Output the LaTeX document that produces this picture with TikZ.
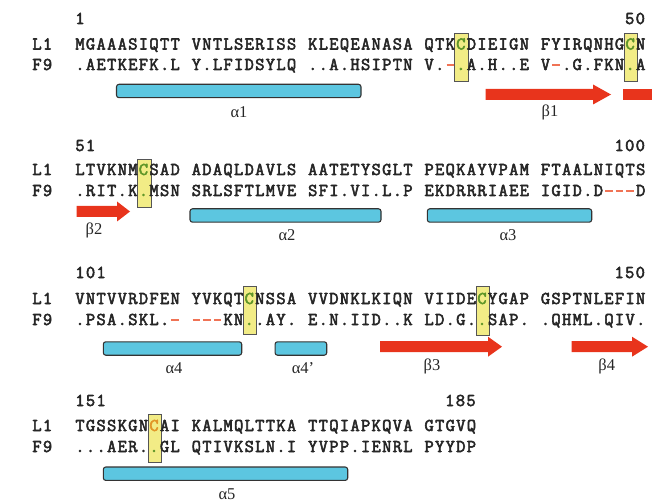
\documentclass[tikz,border=0pt]{standalone}
\usepackage{fontspec}
\setmainfont{Liberation Serif}
\newfontfamily\seqfont[FakeBold=3]{Latin Modern Mono}
\definecolor{txt}{HTML}{262626}
\definecolor{cysgreen}{RGB}{95,150,40}
\definecolor{cysorange}{RGB}{225,150,40}
\definecolor{boxfill}{HTML}{F2EC86}
\definecolor{boxdraw}{HTML}{555555}
\definecolor{helixfill}{HTML}{5CC6E0}
\definecolor{helixdraw}{HTML}{333333}
\definecolor{betared}{RGB}{232,52,28}
\definecolor{gapred}{RGB}{240,115,85}
\newlength\pitch
\setlength\pitch{10.58pt}
\def\cellloop#1{\ifx\relax#1\else\makebox[\pitch][c]{#1}\expandafter\cellloop\fi}
\newcommand\seqrow[1]{{\seqfont\cellloop#1\relax}}
\newcommand\cg{\textcolor{cysgreen}{C}}
\newcommand\dg{\textcolor{cysgreen}{.}}
\newcommand\co{\textcolor{cysorange}{C}}
\newcommand\gp{\textcolor{gapred}{\rule[3.6pt]{7.5pt}{2.4pt}}}
\newcommand\betaarrow[4]{%
  \fill[betared] (#1,{#4-5.5}) -- (#2,{#4-5.5}) -- (#2,{#4-10}) -- (#3,#4)
    -- (#2,{#4+10}) -- (#2,{#4+5.5}) -- (#1,{#4+5.5}) -- cycle;}
\tikzset{
  x=1pt, y=-1pt,
  seq/.style={inner sep=0pt, anchor=base west, text=txt, font=\fontsize{18}{18}\selectfont},
  helix/.style={draw=helixdraw, line width=1.1pt, fill=helixfill, rounded corners=2.5pt, inner sep=0pt, minimum height=13.4pt},
  cysbox/.style={draw=boxdraw, line width=0.9pt, fill=boxfill, inner sep=0pt, minimum width=13.4pt},
  sslabel/.style={inner sep=0pt, anchor=base, text=txt, font=\fontsize{16.5}{16.5}\selectfont},
}
\begin{document}
\begin{tikzpicture}
\useasboundingbox (0,0) rectangle (652,502);
% ---------- secondary structure ----------
\node[helix, minimum width=244.5pt] (h1) at (238.75,91) {};
\node[helix, minimum width=191pt] (h2) at (285.5,215.5) {};
\node[helix, minimum width=164.4pt] (h3) at (509.5,215.5) {};
\node[helix, minimum width=138.4pt] (h4) at (172.5,348.5) {};
\node[helix, minimum width=51.7pt] (h4p) at (300.9,348.5) {};
\node[helix, minimum width=244.4pt] (h5) at (225.5,473.7) {};
\betaarrow{485.7}{593}{611}{94.5}
\fill[betared] (622.7,89) rectangle (652,100);
\betaarrow{76.7}{117}{130}{211.5}
\betaarrow{380}{488}{502}{346.7}
\betaarrow{571.7}{632}{648}{346.7}
\node[sslabel] (la1) at (239,117.5) {α1};
\node[sslabel] (lb1) at (550,116.5) {β1};
\node[sslabel] (lb2) at (94,235) {β2};
\node[sslabel] (la2) at (287,241) {α2};
\node[sslabel] (la3) at (508,240.5) {α3};
\node[sslabel] (la4) at (174,373.5) {α4};
\node[sslabel] (la4p) at (303,373.5) {α4’};
\node[sslabel] (lb3) at (432,370) {β3};
\node[sslabel] (lb4) at (606.7,370) {β4};
\node[sslabel] (la5) at (227,499) {α5};
% ---------- cysteine boxes ----------
\node[cysbox, minimum height=48pt] (c1) at (461.6,57) {};
\node[cysbox, minimum height=48pt] (c2) at (630.9,57) {};
\node[cysbox, minimum height=48pt] (c3) at (144.3,183) {};
\node[cysbox, minimum height=48pt] (c4) at (250.1,310) {};
\node[cysbox, minimum height=49pt] (c5) at (482.8,311) {};
\node[cysbox, minimum height=48pt] (c6) at (154.9,438) {};
% ---------- block 1 ----------
\node[seq] (n1) at (74.5,24) {\seqrow{1}};
\node[seq, anchor=base east] (n50) at (645.8,24) {\seqrow{50}};
\node[seq] (s1a) at (31.5,49.5) {\seqrow{L1}};
\node[seq] (s1b) at (31.5,70) {\seqrow{F9}};
\node[seq] (r1a) at (74.5,49.5) {\seqrow{MGAAASIQTT~VNTLSERISS~KLEQEANASA~QTK\cg DIEIGN~FYIRQNHG\cg N}};
\node[seq] (r1b) at (74.5,70) {\seqrow{.AETKEFK.L~Y.LFIDSYLQ~..A.HSIPTN~V.\gp\dg A.H..E~V\gp.G.FKN\dg A}};
% ---------- block 2 ----------
\node[seq] (n51) at (74.5,151) {\seqrow{51}};
\node[seq, anchor=base east] (n100) at (645.8,151) {\seqrow{100}};
\node[seq] (s2a) at (31.5,175) {\seqrow{L1}};
\node[seq] (s2b) at (31.5,196) {\seqrow{F9}};
\node[seq] (r2a) at (74.5,175) {\seqrow{LTVKNM\cg SAD~ADAQLDAVLS~AATETYSGLT~PEQKAYVPAM~FTAALNIQTS}};
\node[seq] (r2b) at (74.5,196) {\seqrow{.RIT.K\dg MSN~SRLSFTLMVE~SFI.VI.L.P~EKDRRRIAEE~IGID.D\gp\gp\gp D}};
% ---------- block 3 ----------
\node[seq] (n101) at (74.5,278) {\seqrow{101}};
\node[seq, anchor=base east] (n150) at (645.8,278) {\seqrow{150}};
\node[seq] (s3a) at (31.5,304) {\seqrow{L1}};
\node[seq] (s3b) at (31.5,325) {\seqrow{F9}};
\node[seq] (r3a) at (74.5,304) {\seqrow{VNTVVRDFEN~YVKQT\cg NSSA~VVDNKLKIQN~VIIDE\cg YGAP~GSPTNLEFIN}};
\node[seq] (r3b) at (74.5,325) {\seqrow{.PSA.SKL.\gp~\gp\gp\gp KN\dg.AY.~E.N.IID..K~LD.G.\dg SAP.~.QHML.QIV.}};
% ---------- block 4 ----------
\node[seq] (n151) at (74.5,406) {\seqrow{151}};
\node[seq, anchor=base east] (n185) at (476.5,406) {\seqrow{185}};
\node[seq] (s4a) at (31.5,431) {\seqrow{L1}};
\node[seq] (s4b) at (31.5,452) {\seqrow{F9}};
\node[seq] (r4a) at (74.5,431) {\seqrow{TGSSKGN\co AI~KALMQLTTKA~TTQIAPKQVA~GTGVQ}};
\node[seq] (r4b) at (74.5,452) {\seqrow{...AER.\dg GL~QTIVKSLN.I~YVPP.IENRL~PYYDP}};
\end{tikzpicture}
\end{document}
